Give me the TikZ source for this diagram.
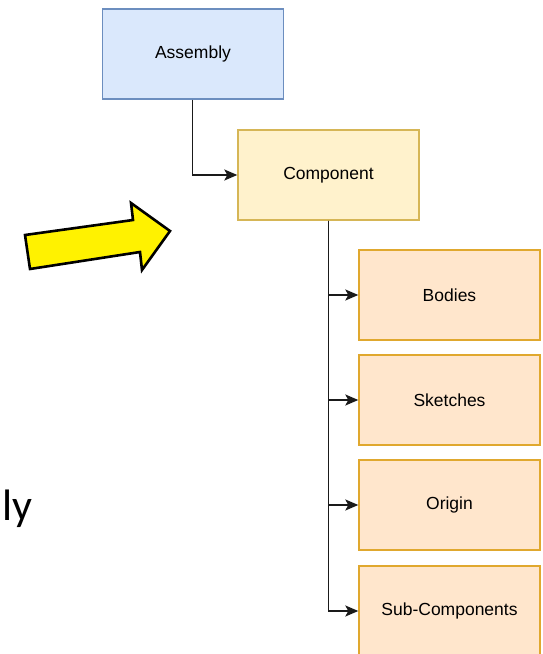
\documentclass[tikz,border=0pt]{standalone}
\usepackage{fontspec}
\setmainfont{Liberation Sans}
\newfontfamily\bigfont{Carlito}
\usetikzlibrary{arrows.meta}
\definecolor{bluefill}{HTML}{DAE8FC}
\definecolor{bluedraw}{HTML}{6C8EBF}
\definecolor{yelfill}{HTML}{FFF2CC}
\definecolor{yeldraw}{HTML}{D6B656}
\definecolor{orfill}{HTML}{FFE6CC}
\definecolor{ordraw}{HTML}{E0A82E}
\definecolor{linecol}{HTML}{1A1A1A}
\tikzset{
  boxstyle/.style={draw, line width=1.4pt, minimum width=181pt, minimum height=90pt, inner sep=0pt, font=\fontsize{17.5}{20}\selectfont},
  asmbox/.style={boxstyle, fill=bluefill, draw=bluedraw},
  compbox/.style={boxstyle, fill=yelfill, draw=yeldraw},
  subbox/.style={boxstyle, fill=orfill, draw=ordraw},
  conn/.style={draw=linecol, line width=1.6pt, -{Stealth[length=13pt,width=11pt,inset=3pt]}},
}
\begin{document}
\begin{tikzpicture}[x=1pt,y=-1pt]
\useasboundingbox (0,0) rectangle (543,654);
\clip (0,0) rectangle (543,654);
\node[asmbox] (asm) at (193,54) {Assembly};
\node[compbox] (comp) at (328.5,175) {Component};
\node[subbox] (bodies) at (449.5,295) {Bodies};
\node[subbox] (sketches) at (449.5,400) {Sketches};
\node[subbox] (origin) at (449.5,505) {Origin};
\node[subbox] (subc) at (449.5,611) {Sub-Components};
\draw[conn] ([xshift=-0.5pt]asm.south) |- (comp.west);
\draw[conn] (comp.south) |- (bodies.west);
\draw[conn] (comp.south) |- (sketches.west);
\draw[conn] (comp.south) |- (origin.west);
\draw[conn] (comp.south) |- (subc.west);
\draw[line width=2.6pt, fill=yellow, line join=miter] (25,235) -- (133,220) -- (131,203) -- (170,231) -- (142,270) -- (140,252) -- (30,269) -- cycle;
\node[anchor=base west, inner sep=0pt, font=\bigfont\fontsize{44}{50}\selectfont] (ly) at (2,520) {ly};
\end{tikzpicture}
\end{document}
